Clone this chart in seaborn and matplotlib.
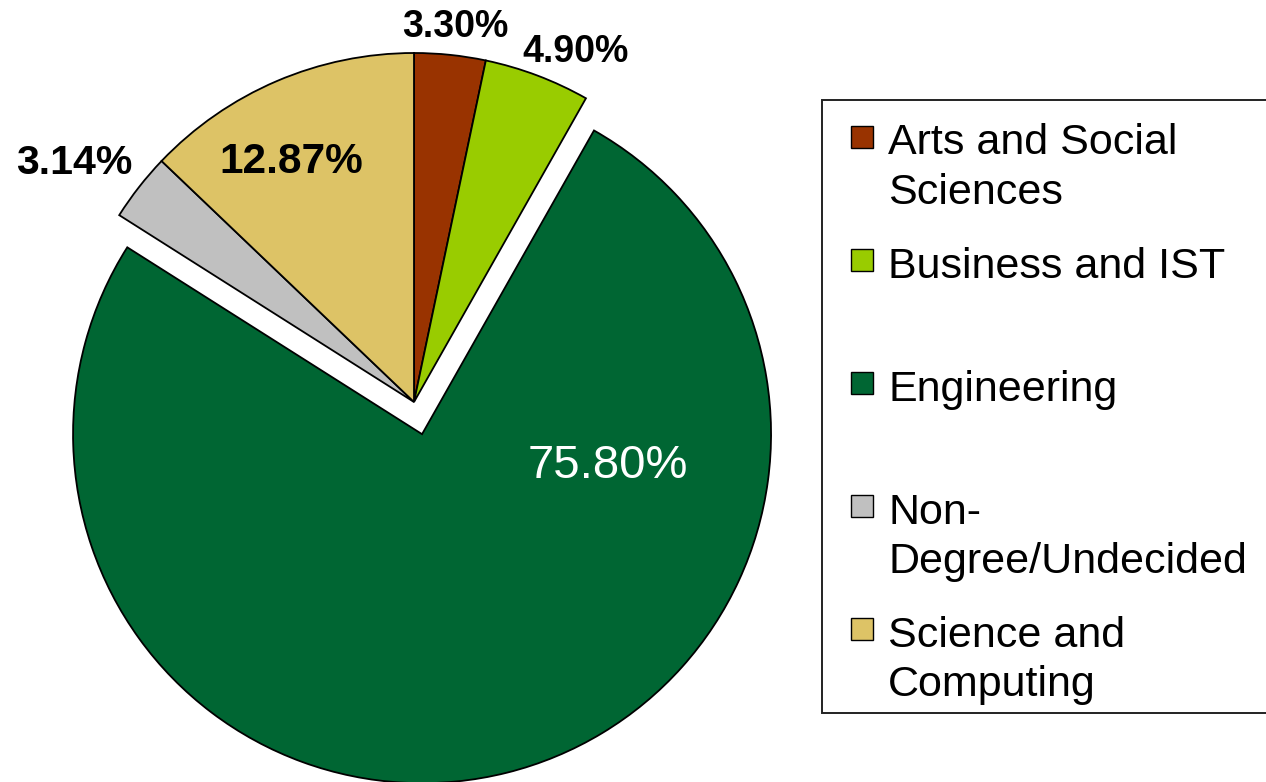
import matplotlib
matplotlib.use("Agg")
import matplotlib.pyplot as plt
from matplotlib.patches import Rectangle
import seaborn as sns
import numpy as np

# datos del grafico (porcentajes por facultad)
categorias = ["Arts and Social Sciences", "Business and IST", "Engineering",
              "Non-Degree/Undecided", "Science and Computing"]
etiquetas_leyenda = ["Arts and Social\nSciences", "Business and IST", "Engineering",
                     "Non-\nDegree/Undecided", "Science and\nComputing"]
porcentajes = [3.30, 4.90, 75.80, 3.14, 12.87]
colores = ["#993300", "#99CC00", "#006633", "#C0C0C0", "#DDC366"]
separacion = [0, 0, 0.095, 0, 0]

sns.set_theme(style="white")
plt.rcParams["font.family"] = ["Liberation Sans", "DejaVu Sans"]

W, H = 1266, 782
fig = plt.figure(figsize=(W / 100, H / 100), dpi=100)
ax = fig.add_axes([0, 0, 1, 1])

# el centro del pastel en pixeles (414, 402) y radio 349 px
R = 349.0
cx, cy = 414, 402

wedges, textos, autotextos = ax.pie(
    porcentajes, colors=colores, explode=separacion, startangle=90,
    counterclock=False, autopct="%.2f%%",
    wedgeprops=dict(edgecolor="black", linewidth=1.3),
)
for t in textos:
    t.set_visible(False)

# posiciones de las etiquetas (radio, angulo) y estilos
pos_etiquetas = [(1.053, 83.5), (1.078, 64.6), (0.597, -21.4), (1.173, 146.2), (0.745, 118.2)]
tam_etiquetas = [27, 27, 34, 29.5, 30.5]
for t, v, (r, ang), tam, cat in zip(autotextos, porcentajes, pos_etiquetas,
                                    tam_etiquetas, categorias):
    a = np.deg2rad(ang)
    # el texto usa el valor original (la suma da 100.01 y autopct lo normaliza)
    t.set_text(f"{v:.2f}%")
    t.set_position((r * np.cos(a), r * np.sin(a)))
    t.set_ha("center")
    t.set_va("baseline")
    t.set_fontsize(tam)
    if cat == "Engineering":
        t.set_color("white")
        t.set_fontweight("normal")
    else:
        t.set_color("black")
        t.set_fontweight("bold")

ax.set_xlim(-cx / R, (W - cx) / R)
ax.set_ylim(-(H - cy) / R, cy / R)
ax.set_aspect("auto")
ax.axis("off")


def px(x, y):
    return x / W, 1 - y / H


# leyenda dibujada a mano (marcadores alineados con la primera linea)
x0, y0 = px(822, 713)
x1, y1 = px(1268, 100)
fig.add_artist(Rectangle((x0, y0), x1 - x0, y1 - y0, transform=fig.transFigure,
                         facecolor="white", edgecolor="#222222", linewidth=1.4))
for i, (lab, col) in enumerate(zip(etiquetas_leyenda, colores)):
    yc = 137 + i * 123.1
    mx, my = px(851, yc + 11)
    fig.add_artist(Rectangle((mx, my), 22 / W, 22 / H, transform=fig.transFigure,
                             facecolor=col, edgecolor="black", linewidth=1.0))
    for j, linea in enumerate(lab.split("\n")):
        tx, ty = px(888, yc + 17.5 + j * 49)
        fig.text(tx, ty, linea, fontsize=31, color="black", ha="left", va="baseline")

plt.savefig("out.png", dpi=100)
plt.close()
